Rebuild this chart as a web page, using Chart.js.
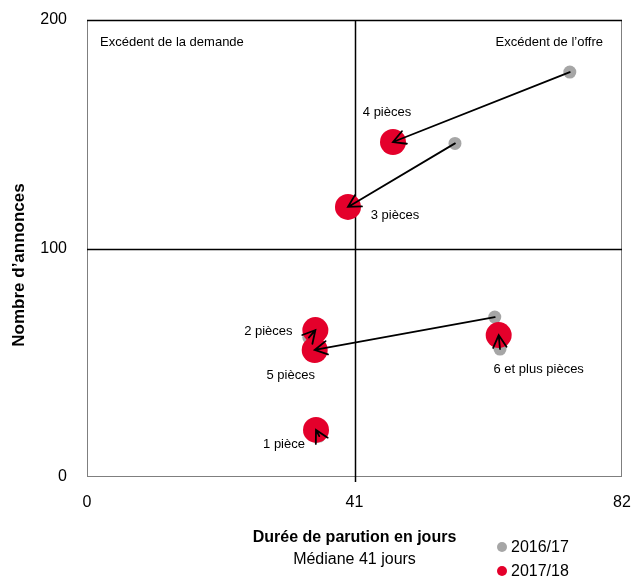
<!DOCTYPE html>
<html lang="fr">
<head>
<meta charset="utf-8">
<script src="https://cdn.jsdelivr.net/npm/chart.js@4.4.0/dist/chart.umd.min.js"></script>
<style>
  html, body { margin: 0; padding: 0; background: #fff; }
</style>
</head>
<body>
<canvas id="grafico" width="632" height="578"></canvas>
<script>
// Données
const categories = ["1 pièce", "2 pièces", "3 pièces", "4 pièces", "5 pièces", "6 et plus pièces"];
const duree2016 = [35.6, 34.0, 56.4, 74.0, 62.5, 63.3];
const annonces2016 = [17.9, 61.0, 146.0, 177.2, 70.0, 56.0];
const duree2017 = [35.1, 35.0, 40.0, 46.9, 34.9, 63.1];
const annonces2017 = [20.6, 64.3, 118.2, 146.6, 55.6, 62.1];
const ticksX = [0, 41, 82];
const ticksY = [0, 100, 200];
const medianeX = 41;
const medianeY = 100;
const series = ["2016/17", "2017/18"];

const GRIS = "#a6a6a6";
const ROUGE = "#e4002b";
const FONT = "'Liberation Sans', Arial, sans-serif";

// Décalage des étiquettes par rapport au point 2017/18 (pixels)
const decalages = [
  { dx: -32, dy: 14 },
  { dx: -47, dy: 1 },
  { dx: 47, dy: 9 },
  { dx: -6, dy: -30 },
  { dx: -24, dy: 25 },
  { dx: 40, dy: 34 },
];

const pointsDe = (xs, ys) => xs.map((x, i) => ({ x: x, y: ys[i] }));

// Plugin : cadre, médianes, flèches, étiquettes, titres et légende
const quadrants = {
  id: "quadrants",
  beforeDatasetsDraw(chart) {
    const { ctx, chartArea: a, scales: { x, y } } = chart;
    ctx.save();
    ctx.strokeStyle = "#7f7f7f";
    ctx.lineWidth = 1;
    ctx.strokeRect(a.left + 0.5, a.top + 0.5, a.right - a.left - 1, a.bottom - a.top - 1);
    ctx.strokeStyle = "#000";
    ctx.beginPath();
    ctx.moveTo(a.left, a.top + 0.5);
    ctx.lineTo(a.right, a.top + 0.5);
    const mx = Math.round(x.getPixelForValue(medianeX)) + 0.5;
    const my = Math.round(y.getPixelForValue(medianeY)) + 0.5;
    ctx.moveTo(mx, a.top);
    ctx.lineTo(mx, a.bottom + 5);
    ctx.moveTo(a.left, my);
    ctx.lineTo(a.right, my);
    ctx.lineWidth = 1.5;
    ctx.stroke();

    ctx.fillStyle = "#000";
    ctx.font = "13px " + FONT;
    ctx.textBaseline = "middle";
    ctx.textAlign = "left";
    ctx.fillText("Excédent de la demande", a.left + 13, a.top + 22);
    ctx.textAlign = "right";
    ctx.fillText("Excédent de l’offre", a.right - 19, a.top + 22);
    ctx.restore();
  },
  afterDatasetsDraw(chart) {
    const { ctx, scales: { x, y } } = chart;
    ctx.save();
    ctx.strokeStyle = "#000";
    ctx.lineWidth = 1.8;
    ctx.lineCap = "round";
    categories.forEach((c, i) => {
      const x0 = x.getPixelForValue(duree2016[i]);
      const y0 = y.getPixelForValue(annonces2016[i]);
      const x1 = x.getPixelForValue(duree2017[i]);
      const y1 = y.getPixelForValue(annonces2017[i]);
      const ang = Math.atan2(y1 - y0, x1 - x0);
      const L = 14, w = 0.5;
      ctx.beginPath();
      ctx.moveTo(x0, y0);
      ctx.lineTo(x1, y1);
      ctx.moveTo(x1 - L * Math.cos(ang - w), y1 - L * Math.sin(ang - w));
      ctx.lineTo(x1, y1);
      ctx.lineTo(x1 - L * Math.cos(ang + w), y1 - L * Math.sin(ang + w));
      ctx.stroke();
    });
    ctx.fillStyle = "#000";
    ctx.font = "13px " + FONT;
    ctx.textAlign = "center";
    ctx.textBaseline = "middle";
    categories.forEach((c, i) => {
      const px = x.getPixelForValue(duree2017[i]);
      const py = y.getPixelForValue(annonces2017[i]);
      ctx.fillText(c, px + decalages[i].dx, py + decalages[i].dy);
    });
    ctx.restore();
  },
  afterDraw(chart) {
    const { ctx, chartArea: a } = chart;
    ctx.save();
    ctx.fillStyle = "#000";
    // titre axe Y
    ctx.translate(19, 265);
    ctx.rotate(-Math.PI / 2);
    ctx.font = "bold 17px " + FONT;
    ctx.textAlign = "center";
    ctx.textBaseline = "middle";
    ctx.fillText("Nombre d’annonces", 0, 0);
    ctx.setTransform(1, 0, 0, 1, 0, 0);
    // titre axe X
    const cx = (a.left + a.right) / 2;
    ctx.font = "bold 16px " + FONT;
    ctx.fillText("Durée de parution en jours", cx, 538);
    ctx.font = "16px " + FONT;
    ctx.fillText("Médiane 41 jours", cx, 560);
    // légende
    const couleurs = [GRIS, ROUGE];
    ctx.textAlign = "left";
    series.forEach((s, i) => {
      const ly = 547 + i * 24;
      ctx.fillStyle = couleurs[i];
      ctx.beginPath();
      ctx.arc(502, ly, 5, 0, Math.PI * 2);
      ctx.fill();
      ctx.fillStyle = "#000";
      ctx.fillText(s, 511, ly + 1);
    });
    ctx.restore();
  },
};

const ctx = document.getElementById("grafico");

const chart = new Chart(ctx, {
  type: "scatter",
  data: {
    datasets: [
      {
        label: series[0],
        data: pointsDe(duree2016, annonces2016),
        backgroundColor: GRIS,
        borderWidth: 0,
        pointRadius: 6.5,
        order: 1,
      },
      {
        label: series[1],
        data: pointsDe(duree2017, annonces2017),
        backgroundColor: ROUGE,
        borderWidth: 0,
        pointRadius: 13,
        order: 0,
      },
    ],
  },
  options: {
    responsive: false,
    animation: false,
    layout: { autoPadding: false, padding: { left: 0, top: 20, right: 10, bottom: 0 } },
    plugins: { legend: { display: false }, tooltip: { enabled: false } },
    scales: {
      x: {
        type: "linear",
        min: 0,
        max: 82,
        afterBuildTicks: (s) => { s.ticks = ticksX.map((v) => ({ value: v })); },
        afterFit: (s) => { s.height = 101; s.paddingRight = 0; s.paddingLeft = 0; },
        grid: { display: true, drawOnChartArea: false, drawTicks: true, tickLength: 16, tickColor: "rgba(0,0,0,0)" },
        border: { display: false },
        ticks: { padding: 0, color: "#000", font: { family: FONT, size: 16 }, maxRotation: 0 },
      },
      y: {
        type: "linear",
        min: 0,
        max: 200,
        afterBuildTicks: (s) => { s.ticks = ticksY.map((v) => ({ value: v })); },
        afterFit: (s) => { s.width = 87; s.paddingTop = 0; s.paddingBottom = 0; },
        grid: { display: true, drawOnChartArea: false, drawTicks: true, tickLength: 20, tickColor: "rgba(0,0,0,0)" },
        border: { display: false },
        ticks: { padding: 0, color: "#000", font: { family: FONT, size: 16 } },
      },
    },
  },
  plugins: [quadrants],
});
</script>
</body>
</html>
